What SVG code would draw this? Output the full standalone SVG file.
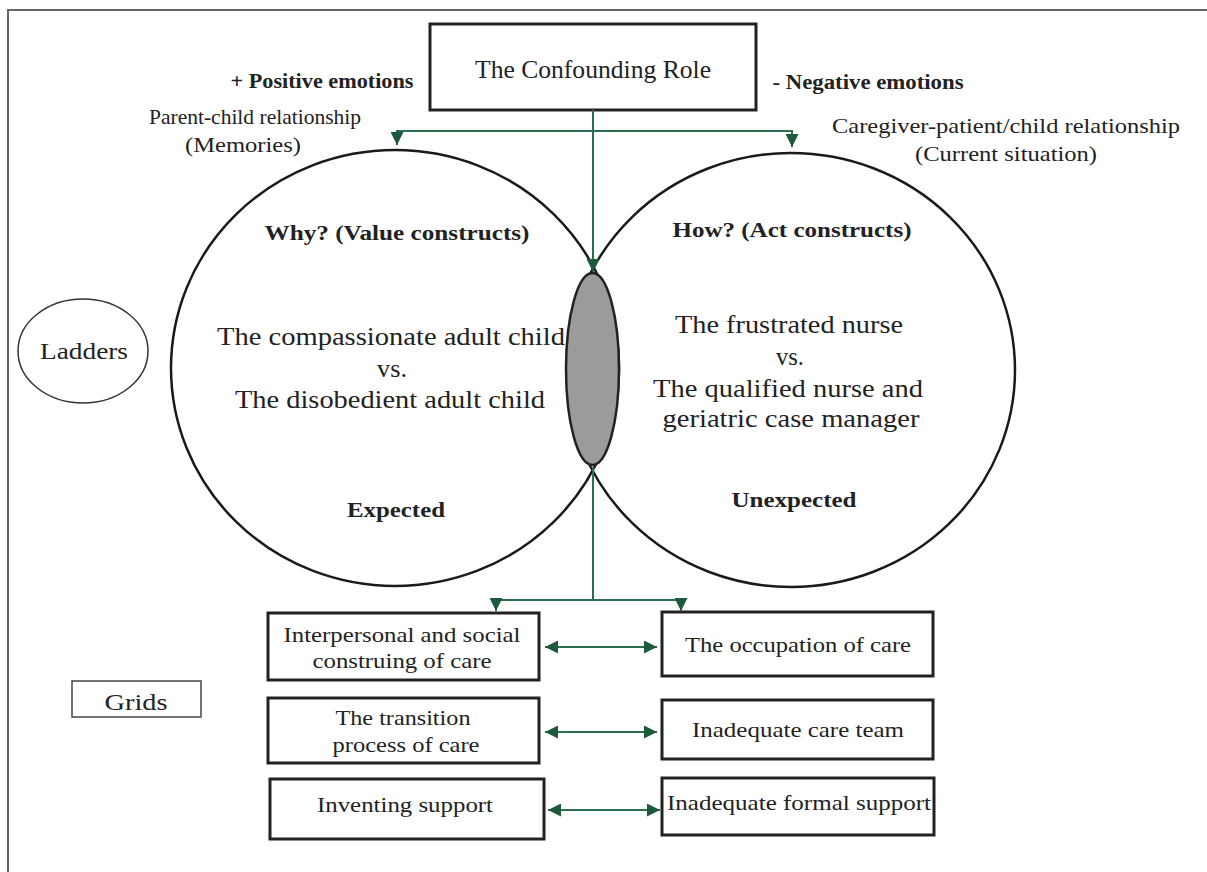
<svg xmlns="http://www.w3.org/2000/svg" width="1207" height="872" viewBox="0 0 1207 872">
<style>
text{font-family:"Liberation Serif","Times New Roman",serif;fill:#222;text-anchor:middle}
.b{font-weight:bold}
.s20{font-size:20px}.s21{font-size:21px}.s22{font-size:22px}.s24{font-size:24px}.s25{font-size:25px}.s26{font-size:26px}
.box{fill:#fff;stroke:#222;stroke-width:3}
.circ{fill:none;stroke:#1a1a1a;stroke-width:2.5}
.conn{fill:none;stroke:#2b6e50;stroke-width:2}
</style>
<defs>
<marker id="ah" viewBox="0 0 13 13" refX="13" refY="6.5" markerWidth="13" markerHeight="13" markerUnits="userSpaceOnUse" orient="auto-start-reverse">
<path d="M0,0 L13,6.5 L0,13 z" fill="#1d5a3c"/>
</marker>
</defs>
<rect width="1207" height="872" fill="#fff"/>
<g id="frame" fill="none" stroke="#666" stroke-width="2">
<path d="M8,872 V10 H1207"/>
</g>
<g id="labels">
<text class="b s20" x="322" y="88" textLength="183" lengthAdjust="spacingAndGlyphs">+ Positive emotions</text>
<text class="b s20" x="868" y="89" textLength="191" lengthAdjust="spacingAndGlyphs">- Negative emotions</text>
<text class="s21" x="255" y="124" textLength="212" lengthAdjust="spacingAndGlyphs">Parent-child relationship</text>
<text class="s21" x="243" y="152" textLength="116" lengthAdjust="spacingAndGlyphs">(Memories)</text>
<text class="s21" x="1006" y="133" textLength="348" lengthAdjust="spacingAndGlyphs">Caregiver-patient/child relationship</text>
<text class="s21" x="1006" y="161" textLength="182" lengthAdjust="spacingAndGlyphs">(Current situation)</text>
</g>
<g id="left-circle">
<ellipse class="circ" cx="395" cy="368" rx="224" ry="218"/>
<text class="b s20" x="397" y="240" textLength="265" lengthAdjust="spacingAndGlyphs">Why? (Value constructs)</text>
<text class="s26" x="391" y="345" textLength="348" lengthAdjust="spacingAndGlyphs">The compassionate adult child</text>
<text class="s26" x="392" y="377" textLength="30" lengthAdjust="spacingAndGlyphs">vs.</text>
<text class="s26" x="390" y="408" textLength="310" lengthAdjust="spacingAndGlyphs">The disobedient adult child</text>
<text class="b s20" x="396" y="517" textLength="98" lengthAdjust="spacingAndGlyphs">Expected</text>
</g>
<g id="right-circle">
<ellipse class="circ" cx="791" cy="370" rx="224" ry="217"/>
<text class="b s20" x="792" y="237" textLength="239" lengthAdjust="spacingAndGlyphs">How? (Act constructs)</text>
<text class="s26" x="789" y="333" textLength="228" lengthAdjust="spacingAndGlyphs">The frustrated nurse</text>
<text class="s26" x="790" y="365" textLength="28" lengthAdjust="spacingAndGlyphs">vs.</text>
<text class="s26" x="788" y="397" textLength="270" lengthAdjust="spacingAndGlyphs">The qualified nurse and</text>
<text class="s26" x="791" y="427" textLength="257" lengthAdjust="spacingAndGlyphs">geriatric case manager</text>
<text class="b s20" x="794" y="507" textLength="125" lengthAdjust="spacingAndGlyphs">Unexpected</text>
</g>
<g id="overlap">
<ellipse cx="592.5" cy="369" rx="26.5" ry="96" fill="#9b9b9b" stroke="#222" stroke-width="2.5"/>
</g>
<g id="confounding-role">
<rect class="box" x="430" y="24" width="326" height="86"/>
<text class="s25" x="593" y="78" textLength="236" lengthAdjust="spacingAndGlyphs">The Confounding Role</text>
</g>
<g id="ladders">
<ellipse cx="83" cy="351" rx="65" ry="52" fill="#fff" stroke="#333" stroke-width="1.5"/>
<text class="s24" x="84" y="359" textLength="88" lengthAdjust="spacingAndGlyphs">Ladders</text>
</g>
<g id="grids">
<rect x="72" y="681" width="129" height="36" fill="#fff" stroke="#444" stroke-width="1.5"/>
<text class="s24" x="136" y="710" textLength="63" lengthAdjust="spacingAndGlyphs">Grids</text>
</g>
<g id="box-interpersonal">
<rect class="box" x="268" y="613" width="271" height="67"/>
<text class="s22" x="402" y="642" textLength="237" lengthAdjust="spacingAndGlyphs">Interpersonal and social</text>
<text class="s22" x="402" y="668" textLength="179" lengthAdjust="spacingAndGlyphs">construing of care</text>
</g>
<g id="box-occupation">
<rect class="box" x="662" y="612" width="271" height="64"/>
<text class="s22" x="798" y="652" textLength="226" lengthAdjust="spacingAndGlyphs">The occupation of care</text>
</g>
<g id="box-transition">
<rect class="box" x="268" y="698" width="271" height="65"/>
<text class="s22" x="403" y="725" textLength="135" lengthAdjust="spacingAndGlyphs">The transition</text>
<text class="s22" x="406" y="752" textLength="147" lengthAdjust="spacingAndGlyphs">process of care</text>
</g>
<g id="box-care-team">
<rect class="box" x="662" y="700" width="271" height="59"/>
<text class="s22" x="798" y="737" textLength="212" lengthAdjust="spacingAndGlyphs">Inadequate care team</text>
</g>
<g id="box-inventing">
<rect class="box" x="270" y="779" width="274" height="60"/>
<text class="s22" x="405" y="812" textLength="176" lengthAdjust="spacingAndGlyphs">Inventing support</text>
</g>
<g id="box-formal">
<rect class="box" x="662" y="778" width="272" height="57"/>
<text class="s22" x="799" y="810" textLength="264" lengthAdjust="spacingAndGlyphs">Inadequate formal support</text>
</g>
<g id="connectors">
<path class="conn" d="M593,110 V272" marker-end="url(#ah)"/>
<path class="conn" d="M593,131 H397 V145" marker-end="url(#ah)"/>
<path class="conn" d="M593,131 H792 V147" marker-end="url(#ah)"/>
<path class="conn" d="M593,467 V600 H496 V611" marker-end="url(#ah)"/>
<path class="conn" d="M593,600 H681 V611" marker-end="url(#ah)"/>
<path class="conn" d="M545,647 H657" marker-start="url(#ah)" marker-end="url(#ah)"/>
<path class="conn" d="M545,732 H657" marker-start="url(#ah)" marker-end="url(#ah)"/>
<path class="conn" d="M548,810 H660" marker-start="url(#ah)" marker-end="url(#ah)"/>
</g>
</svg>
